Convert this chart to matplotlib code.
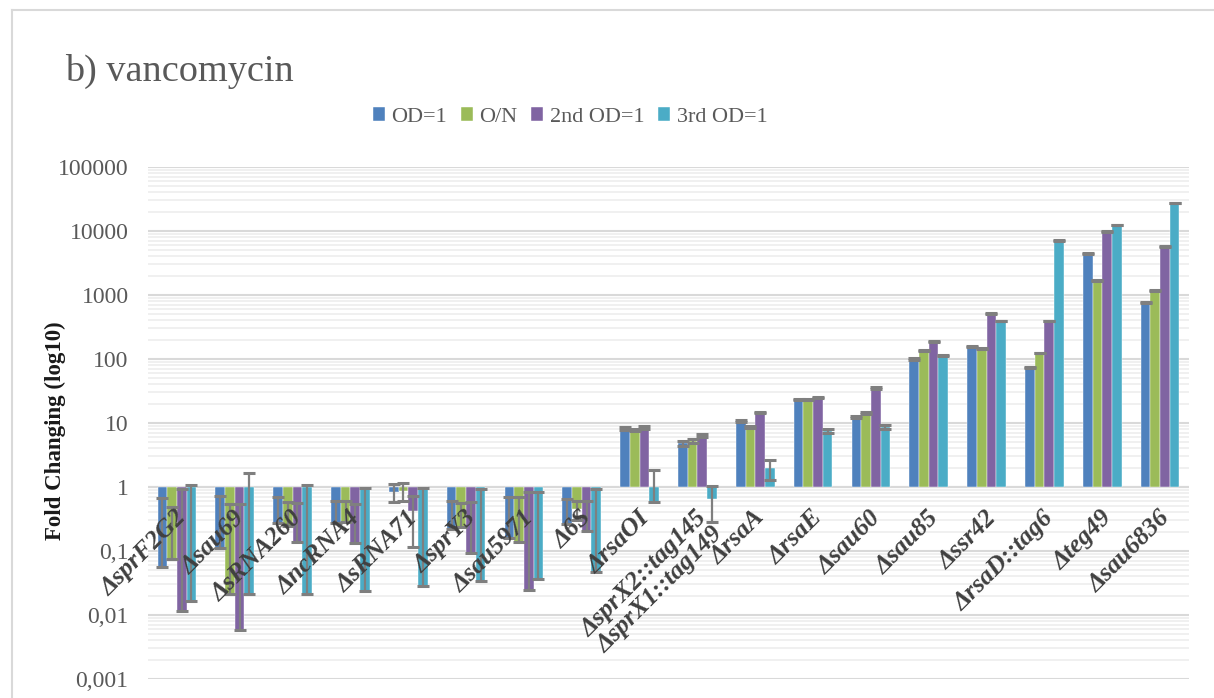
import numpy as np
import matplotlib
matplotlib.use("Agg")
import matplotlib.pyplot as plt
import matplotlib.transforms as mtransforms
from matplotlib.ticker import LogLocator, FixedLocator, FixedFormatter, NullFormatter
from matplotlib.lines import Line2D

plt.rcParams['font.family'] = ['Liberation Serif', 'DejaVu Serif']

# ---- data -------------------------------------------------------------
categories = ["ΔsprF2G2", "Δsau69", "ΔsRNA260", "ΔncRNA4", "ΔsRNA71", "ΔsprY3",
              "Δsau5971", "Δ6S", "ΔrsaOI", "ΔsprX2::tag145\nΔsprX1::tag149",
              "ΔrsaA", "ΔrsaE", "Δsau60", "Δsau85", "Δssr42", "ΔrsaD::tag6",
              "Δteg49", "Δsau6836"]

series_names = ["OD=1", "O/N", "2nd OD=1", "3rd OD=1"]

od1 = [0.056, 0.11, 0.27, 0.27, 0.84, 0.22, 0.16, 0.26, 8.2, 4.8,
       10.9, 23.5, 12.5, 100, 158, 73, 4400, 770]
on = [0.074, 0.021, 0.25, 0.28, 0.88, 0.24, 0.14, 0.45, 7.9, 5.2,
      8.8, 23, 14.5, 136, 145, 124, 1700, 1180]
od1_2nd = [0.0117, 0.0059, 0.14, 0.135, 0.415, 0.094, 0.0245, 0.206, 8.5, 6.4,
           14.6, 25.3, 35, 187, 510, 393, 9800, 5700]
od1_3rd = [0.0163, 0.021, 0.021, 0.024, 0.028, 0.034, 0.036, 0.047, 0.59, 0.65,
           1.97, 7.5, 8.6, 114, 393, 7100, 12400, 27400]

err_od1 = [0.61, 0.62, 0.42, 0.34, 0.26, 0.39, 0.53, 0.40, 0.35, 0.4,
           0.4, 0.4, 0.5, 2, 3, 1.5, 80, 15]
err_on = [0.42, 0.52, 0.33, 0.33, 0.27, 0.33, 0.55, 0.15, 0.3, 0.35,
          0.3, 0.3, 0.5, 2.5, 3, 2, 30, 20]
err_2nd = [0.92, 0.53, 0.43, 0.40, 0.3, 0.48, 0.82, 0.40, 0.4, 0.45,
           0.3, 0.4, 1, 3, 5, 4, 100, 60]
err_3rd = [1.06, 1.63, 1.07, 0.93, 0.92, 0.9, 0.8, 0.87, 1.26, 0.37,
           0.68, 0.5, 0.55, 2, 5, 50, 150, 300]

ytick_values = [0.001, 0.01, 0.1, 1, 10, 100, 1000, 10000, 100000]
ytick_labels = ["0,001", "0,01", "0,1", "1", "10", "100", "1000", "10000", "100000"]

colors = ["#4F81BD", "#9BBB59", "#8064A2", "#4BACC6"]

# ---- figure -----------------------------------------------------------
W, H = 1214, 698
fig = plt.figure(figsize=(W / 100, H / 100), dpi=100)
fig.patch.set_facecolor("white")

# chart frame
fx, fy = 12 / W, 1 - 10 / H
fig.add_artist(Line2D([fx, fx], [0, fy], transform=fig.transFigure, color="#d9d9d9", lw=1.5))
fig.add_artist(Line2D([fx, 1], [fy, fy], transform=fig.transFigure, color="#d9d9d9", lw=1.5))

ax = fig.add_axes([148 / W, 1 - 679 / H, (1189 - 148) / W, (679 - 167) / H])
ax.set_yscale("log")
ax.set_ylim(0.001, 100000)
n = len(categories)
ax.set_xlim(-0.5, n - 0.5)

x = np.arange(n)
w = 1 / 6
all_vals = [od1, on, od1_2nd, od1_3rd]
all_errs = [err_od1, err_on, err_2nd, err_3rd]

for k, (vals, errs, c, name) in enumerate(zip(all_vals, all_errs, colors, series_names)):
    v = np.array(vals, dtype=float)
    e = np.array(errs, dtype=float)
    xs = x + (k - 1.5) * w
    ax.bar(xs, v - 1, bottom=1, width=w, color=c, label=name, zorder=3,
           edgecolor="white", linewidth=0.3)
    # bars going below zero on a log axis: the minus whisker stops at the bar end
    lower = np.where(v - e > 0, e, 0.0)
    ax.errorbar(xs, v, yerr=[lower, e], fmt="none", ecolor="#7f7f7f",
                elinewidth=1.6, capsize=4, capthick=2.2, zorder=4)

# grid
ax.yaxis.set_major_locator(FixedLocator(ytick_values))
ax.yaxis.set_major_formatter(FixedFormatter(ytick_labels))
ax.yaxis.set_minor_locator(LogLocator(base=10, subs=np.arange(2, 10), numticks=20))
ax.yaxis.set_minor_formatter(NullFormatter())
ax.grid(which="major", axis="y", color="#d9d9d9", lw=1.5, zorder=0)
ax.grid(which="minor", axis="y", color="#eeeeee", lw=1.2, zorder=0)
ax.axhline(1, color="#d9d9d9", lw=1.5, zorder=2)
ax.set_axisbelow(True)

for s in ax.spines.values():
    s.set_visible(False)
ax.tick_params(axis="both", which="both", length=0)
ax.tick_params(axis="y", labelsize=17, labelcolor="#595959", pad=14)
ax.set_xticks([])

# category labels sit next to the horizontal axis at 1
offset = mtransforms.ScaledTranslation(-2 / 100, -19 / 100, fig.dpi_scale_trans)
for i, lab in enumerate(categories):
    ax.text(i, 1, lab, rotation=45, ha="right", va="top", rotation_mode="anchor",
            fontsize=18.5, fontweight="bold", fontstyle="italic", color="#404040",
            transform=ax.transData + offset, zorder=5, linespacing=1.0,
            multialignment="right")

fig.text(55 / W, 1 - 431 / H, "Fold Changing (log10)", rotation=90, ha="center",
         va="center", fontsize=16.5, fontweight="bold", color="#1a1a1a")

fig.text(65 / W, 1 - 71 / H, "b) vancomycin", ha="left", va="center",
         fontsize=27.5, color="#595959")

fig.legend(loc="center", bbox_to_anchor=(570 / W, 1 - 117 / H), ncol=4, frameon=False,
           fontsize=16, labelcolor="#595959", handlelength=0.55, handleheight=0.55,
           handletextpad=0.3, columnspacing=0.6)

fig.savefig("out.png", dpi=100, facecolor="white")
